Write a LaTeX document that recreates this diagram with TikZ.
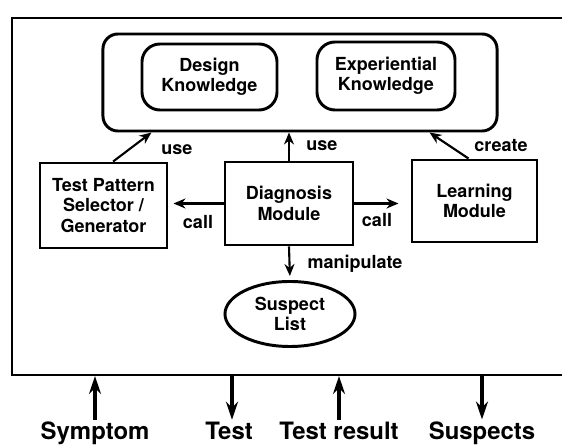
\documentclass[tikz,border=0pt]{standalone}
\usepackage{fontspec}
\setmainfont{TeX Gyre Heros}
\usetikzlibrary{arrows.meta,shapes.geometric}

\tikzset{
  boxfont/.style={font=\fontsize{12.8}{14.4}\selectfont\bfseries, align=center},
  modbox/.style={draw, line width=2.1pt, boxfont},
  kbox/.style={draw, line width=2.1pt, rounded corners=0.45cm, boxfont},
  lbl/.style={font=\fontsize{12.8}{14.4}\selectfont\bfseries, inner sep=0pt},
  iolbl/.style={font=\fontsize{17}{20}\selectfont\bfseries, inner sep=0pt, anchor=base},
  ioarrow/.style={-{Stealth[length=0.45cm,width=0.3cm]}, line width=2.2pt}
}

\begin{document}
\begin{tikzpicture}[x=0.025cm, y=-0.025cm, >={Stealth[length=0.3cm,width=0.25cm]}]
\useasboundingbox (0,0) rectangle (562,445);

\node (frame) [draw, line width=1.4pt, minimum width=14.6875cm, minimum height=8.925cm] at (306.25,196.5) {};

\node (kb) [draw, line width=2.1pt, rounded corners=0.375cm, minimum width=9.85cm, minimum height=2.425cm] at (300,82.5) {};
\node (dk) [kbox, minimum width=3.375cm, minimum height=1.65cm] at (209.5,77) {Design\\Knowledge};
\node (ek) [kbox, minimum width=3.45cm, minimum height=1.7cm] at (386,76) {Experiential\\Knowledge};

\node (tps) [modbox, minimum width=3.175cm, minimum height=2.125cm] at (103.5,205.5) {Test Pattern\\Selector /\\Generator};
\node (dm) [modbox, minimum width=3.2cm, minimum height=2.075cm] at (289,203.5) {Diagnosis\\Module};
\node (lm) [modbox, minimum width=3.125cm, minimum height=2.05cm] at (474.5,201) {Learning\\Module};
\node (sl) [draw, ellipse, line width=2.1pt, boxfont, minimum width=3.25cm, minimum height=1.625cm, inner sep=0pt] at (290,314) {Suspect\\List};

\draw[->, line width=1.5pt] ([xshift=0.24cm]tps.north) -- ([xshift=1.25cm]kb.south west);
\draw[->, line width=1.5pt] (dm.north) -- (dm.north |- kb.south);
\draw[->, line width=1.5pt] ([xshift=-0.15cm]lm.north) -- ([xshift=-1.725cm]kb.south east);
\draw[->, line width=1.5pt, shorten >=0.125cm] (dm.west) -- (dm.west -| tps.east);
\draw[->, line width=1.5pt, shorten >=0.3cm] (dm.east) -- (dm.east -| lm.west);
\draw[->, line width=1.5pt, shorten >=0.1cm] (dm.south) -- (sl.north);

\node (use1) [lbl] at (177,150) {use};
\node (use2) [lbl] at (322,146) {use};
\node (create) [lbl] at (501,146) {create};
\node (call1) [lbl] at (198,222) {call};
\node (call2) [lbl] at (377,220) {call};
\node (manip) [lbl] at (355,264) {manipulate};

% inputs and outputs
\node (sym) [iolbl] at (95,439.5) {Symptom};
\node (tst) [iolbl] at (229,439.5) {Test};
\node (res) [iolbl] at (339,439.5) {Test result};
\node (sus) [iolbl] at (482,439.5) {Suspects};

\draw[ioarrow, shorten <=0.05cm] (sym.north) -- (sym.north |- frame.south);
\draw[ioarrow, shorten >=0.05cm] ([xshift=0.075cm]tst.north |- frame.south) -- ([xshift=0.075cm]tst.north);
\draw[ioarrow, shorten <=0.05cm] (res.north) -- (res.north |- frame.south);
\draw[ioarrow, shorten >=0.05cm] (sus.north |- frame.south) -- (sus.north);
\end{tikzpicture}
\end{document}
